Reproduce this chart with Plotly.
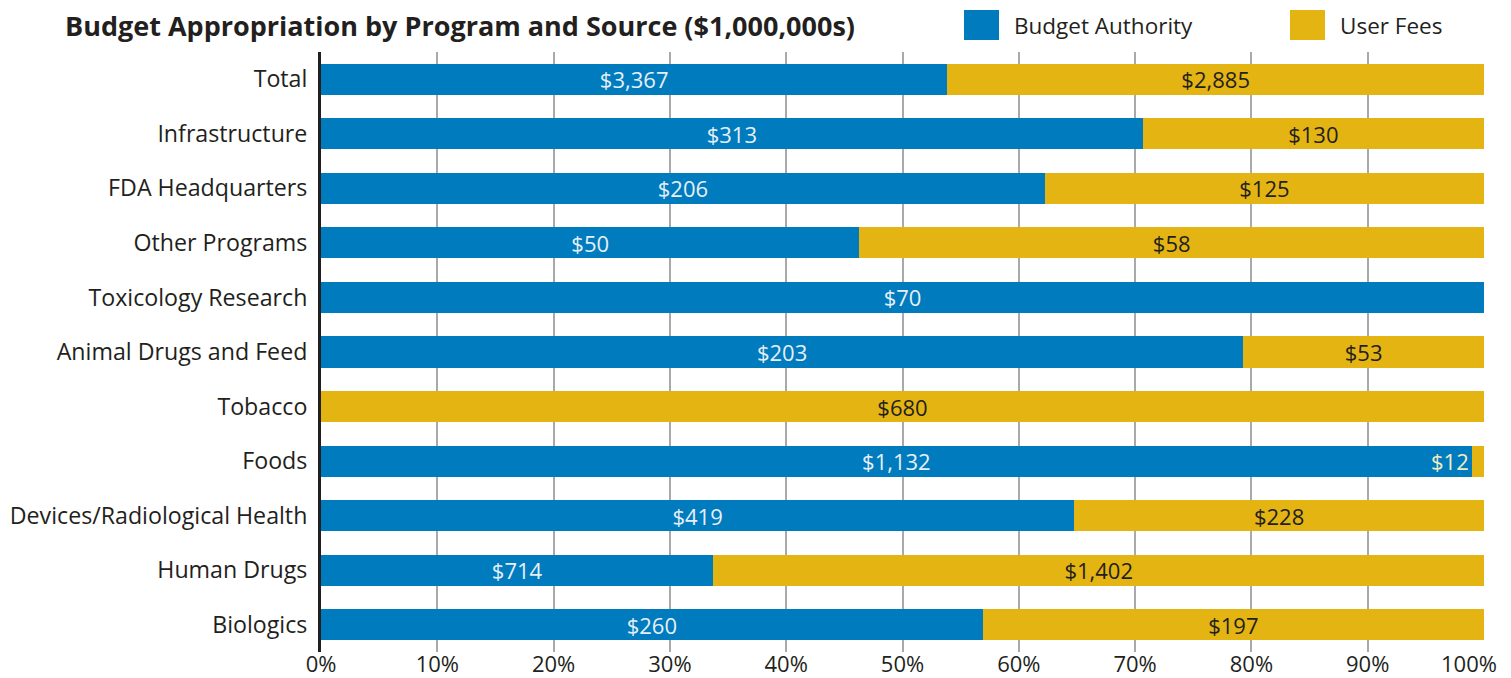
import plotly.graph_objects as go

programs = ["Total", "Infrastructure", "FDA Headquarters", "Other Programs",
            "Toxicology Research", "Animal Drugs and Feed", "Tobacco", "Foods",
            "Devices/Radiological Health", "Human Drugs", "Biologics"]
budget_authority = [3367, 313, 206, 50, 70, 203, 0, 1132, 419, 714, 260]
user_fees = [2885, 130, 125, 58, 0, 53, 680, 12, 228, 1402, 197]
tick_vals = [0, 10, 20, 30, 40, 50, 60, 70, 80, 90, 100]
tick_text = [f"{v}%" for v in tick_vals]

BLUE = "#007bbd"
GOLD = "#e4b412"
FONT = "Open Sans"
DARK = "#231f20"

# page body has an 8px margin; size the figure so it ends at the window edge
OX, OY = 8, 8
W, H = 1511 - OX, 678 - OY
ML, MR, MT, MB = 321 - OX, 27, 52 - OY, 26

def fmt(v):
    return f"${v:,}" if v > 0 else ""

# small segments whose label would not fit are labelled by annotation instead
small = [i for i, (b, u) in enumerate(zip(budget_authority, user_fees)) if 0 < u and u / (b + u) < 0.03]

fig = go.Figure()
fig.add_trace(go.Bar(
    y=programs, x=budget_authority, orientation="h", name="Budget Authority",
    marker=dict(color=BLUE, line=dict(width=0)),
    text=[fmt(v) for v in budget_authority], textposition="inside",
    insidetextanchor="middle", textangle=0, constraintext="none",
    textfont=dict(family=FONT, size=22, color="#e6eff7"),
    showlegend=False, hoverinfo="skip",
))
fig.add_trace(go.Bar(
    y=programs, x=user_fees, orientation="h", name="User Fees",
    marker=dict(color=GOLD, line=dict(width=0)),
    text=["" if i in small else fmt(v) for i, v in enumerate(user_fees)],
    textposition="inside", insidetextanchor="middle", textangle=0, constraintext="none",
    textfont=dict(family=FONT, size=22, color=DARK),
    showlegend=False, hoverinfo="skip",
))

for i in small:
    tot = budget_authority[i] + user_fees[i]
    fig.add_annotation(
        x=100 * budget_authority[i] / tot, y=programs[i], xref="x", yref="y",
        text=fmt(user_fees[i]), showarrow=False, xanchor="right", xshift=-1,
        font=dict(family=FONT, size=22, color="#f1ecc4"),
    )

# last tick label sits at the window edge; draw it as an annotation nudged inward
shown_ticks = tick_text[:-1] + [""]

fig.update_layout(
    barmode="stack", barnorm="percent", bargap=0.43,
    width=W, height=H,
    margin=dict(l=ML, r=MR, t=MT, b=MB, pad=0),
    paper_bgcolor="white", plot_bgcolor="white",
    font=dict(family=FONT, size=22, color=DARK),
    xaxis=dict(range=[0, 100], tickvals=tick_vals, ticktext=shown_ticks,
               showgrid=True, gridcolor="#a7a9ac", gridwidth=1.5,
               ticks="", zeroline=False, showline=False, automargin=False,
               ticklabelstandoff=-3, ticklabeloverflow="allow",
               tickfont=dict(family=FONT, size=22, color=DARK)),
    yaxis=dict(autorange="reversed", showgrid=False, zeroline=False,
               showline=True, linecolor=DARK, linewidth=3,
               ticks="", ticklabelstandoff=6, automargin=False,
               tickfont=dict(family=FONT, size=23.2, color=DARK)),
)

# legend swatches and labels in window-pixel-derived paper coordinates
W_plot = W - ML - MR
H_plot = H - MT - MB
def px_x(px):
    return (px - OX - ML) / W_plot
def px_y(py):
    return (H - MB - (py - OY)) / H_plot

fig.add_annotation(xref="x", yref="paper", x=tick_vals[-1], y=px_y(663),
                   text=tick_text[-1], showarrow=False, xanchor="right",
                   yanchor="middle", xshift=14, borderpad=0,
                   font=dict(family=FONT, size=22, color=DARK))

for sx, color, label in [(964, BLUE, "Budget Authority"), (1290, GOLD, "User Fees")]:
    fig.add_shape(type="rect", xref="paper", yref="paper",
                  x0=px_x(sx), x1=px_x(sx + 35), y0=px_y(40), y1=px_y(10),
                  fillcolor=color, line=dict(width=0))
    fig.add_annotation(xref="paper", yref="paper", x=px_x(sx + 48), y=px_y(25),
                       text=label, showarrow=False, xanchor="left", yanchor="middle",
                       font=dict(family=FONT, size=22.5, color=DARK))

fig.add_annotation(xref="paper", yref="paper", x=px_x(63), y=px_y(25),
                   text="<b>Budget Appropriation by Program and Source ($1,000,000s)</b>",
                   showarrow=False, xanchor="left", yanchor="middle",
                   font=dict(family=FONT, size=27, color=DARK))

fig.write_html("out.html")
